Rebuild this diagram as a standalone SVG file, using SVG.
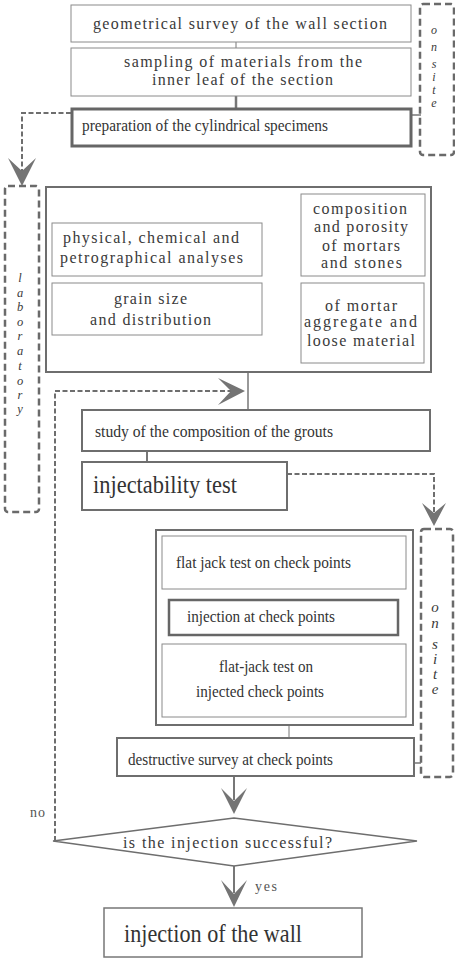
<svg xmlns="http://www.w3.org/2000/svg" width="455" height="958" viewBox="0 0 455 958">
<style>
  .bg{fill:#ffffff}
  .thin{fill:#fff;stroke:#8a8a8a;stroke-width:1}
  .mid{fill:#fff;stroke:#6e6e6e;stroke-width:2}
  .thick{fill:#fff;stroke:#666;stroke-width:3}
  .zone{fill:none;stroke:#6a6a6a;stroke-width:2.5;stroke-dasharray:7,4}
  .line{fill:none;stroke:#777;stroke-width:1.5}
  .dline{fill:none;stroke:#6e6e6e;stroke-width:2;stroke-dasharray:5,2.5}
  .head{fill:#747474;stroke:none}
  .oarrow{fill:none;stroke:#777;stroke-width:1}
  .sp{font-family:"Liberation Serif","Times New Roman",serif;font-size:16px;fill:#3a3a3a}
  .cd{font-family:"Liberation Serif","Times New Roman",serif;font-size:16px;fill:#333}
  .big{font-family:"Liberation Serif","Times New Roman",serif;font-size:25px;fill:#333}
  .vert{font-family:"Liberation Serif","Times New Roman",serif;font-style:italic;font-size:15px;fill:#3a3a3a;text-anchor:middle}
  .vs{font-size:12px}
  .vl{font-size:12.5px}
  .small{font-family:"Liberation Serif","Times New Roman",serif;font-size:14px;fill:#555}
</style>
<rect class="bg" x="0" y="0" width="455" height="958"/>

<g id="connectors">
  <line class="line" x1="236" y1="42" x2="236" y2="48" style="stroke-width:1"/>
  <line class="line" x1="236" y1="96" x2="236" y2="108" style="stroke-width:2.5"/>
  <line class="line" x1="411" y1="115" x2="421" y2="115"/>
  <polyline class="dline" points="71,113 22,113 22,172"/>
  <path class="head" d="M22,186 L8,158 L22,171 L36,158 Z"/>
  <line class="line" x1="147" y1="276" x2="147" y2="283" style="stroke-width:1"/>
  <line class="oarrow" x1="262" y1="249" x2="300" y2="249"/>
  <polyline class="oarrow" points="285,241 300,249 285,257"/>
  <line class="oarrow" x1="262" y1="310" x2="300" y2="310"/>
  <polyline class="oarrow" points="285,302 300,310 285,318"/>
  <line class="line" x1="248" y1="372" x2="248" y2="410"/>
  <polyline class="dline" points="55,841 55,391 232,391"/>
  <path class="head" d="M245,391 L218,378 L231,391 L218,405 Z"/>
  <line class="line" x1="147" y1="451" x2="147" y2="462" style="stroke-width:2"/>
  <polyline class="dline" points="287,474 434,474 434,512"/>
  <path class="head" d="M434,526 L422,503 L434,513 L446,503 Z"/>
  <line class="line" x1="289" y1="530" x2="289" y2="536" style="stroke-width:1"/>
  <line class="line" x1="289" y1="589" x2="289" y2="599" style="stroke-width:1"/>
  <line class="line" x1="289" y1="635" x2="289" y2="644" style="stroke-width:1"/>
  <line class="line" x1="289" y1="717" x2="289" y2="738" style="stroke-width:1"/>
  <line class="line" x1="414" y1="763" x2="421" y2="763"/>
  <line class="line" x1="234" y1="776" x2="234" y2="800" style="stroke-width:2"/>
  <path class="head" d="M234,814 L221,788 L234,801 L247,788 Z"/>
  <line class="line" x1="234" y1="866" x2="234" y2="893" style="stroke-width:2"/>
  <path class="head" d="M234,907 L221,880 L234,894 L247,880 Z"/>
</g>

<g id="zone-onsite-1">
  <rect class="zone" x="420" y="4" width="34" height="151" rx="3"/>
  <text class="vert vs" x="434" y="34">o</text>
  <text class="vert vs" x="434" y="51">n</text>
  <text class="vert vs" x="434" y="68">s</text>
  <text class="vert vs" x="434" y="81">i</text>
  <text class="vert vs" x="434" y="94">t</text>
  <text class="vert vs" x="434" y="107">e</text>
</g>

<g id="zone-laboratory">
  <rect class="zone" x="5" y="186" width="34" height="326" rx="3"/>
  <text class="vert vl" x="20" y="282">l</text>
  <text class="vert vl" x="20" y="297">a</text>
  <text class="vert vl" x="20" y="311">b</text>
  <text class="vert vl" x="20" y="326">o</text>
  <text class="vert vl" x="20" y="340">r</text>
  <text class="vert vl" x="20" y="355">a</text>
  <text class="vert vl" x="20" y="370">t</text>
  <text class="vert vl" x="20" y="385">o</text>
  <text class="vert vl" x="20" y="399">r</text>
  <text class="vert vl" x="20" y="413">y</text>
</g>

<g id="zone-onsite-2">
  <rect class="zone" x="421" y="529" width="32" height="248" rx="3"/>
  <text class="vert" x="435" y="612">o</text>
  <text class="vert" x="435" y="628">n</text>
  <text class="vert" x="435" y="649">s</text>
  <text class="vert" x="435" y="664">i</text>
  <text class="vert" x="435" y="679">t</text>
  <text class="vert" x="435" y="694">e</text>
</g>

<g id="geometrical-survey">
  <rect class="thin" x="71" y="5" width="340" height="37"/>
  <text class="sp" x="93" y="29" textLength="294" lengthAdjust="spacing">geometrical survey of the wall section</text>
</g>

<g id="sampling">
  <rect class="thin" x="71" y="48" width="340" height="48"/>
  <text class="sp" x="124" y="67" textLength="238" lengthAdjust="spacing">sampling of materials from the</text>
  <text class="sp" x="152" y="85" textLength="181" lengthAdjust="spacing">inner leaf of the section</text>
</g>

<g id="preparation">
  <rect class="thick" x="72" y="109" width="339" height="37"/>
  <text class="cd" x="82" y="131" textLength="246" lengthAdjust="spacingAndGlyphs">preparation of the cylindrical specimens</text>
</g>

<g id="laboratory-box">
  <rect class="mid" x="46" y="187" width="385" height="185"/>
</g>

<g id="analyses">
  <rect class="thin" x="52" y="223" width="210" height="53"/>
  <text class="sp" x="63" y="243" textLength="176" lengthAdjust="spacing">physical, chemical and</text>
  <text class="sp" x="60" y="263" textLength="183" lengthAdjust="spacing">petrographical analyses</text>
</g>

<g id="composition-porosity">
  <rect class="thin" x="301" y="194" width="124" height="82"/>
  <text class="sp" x="313" y="214" textLength="94" lengthAdjust="spacing">composition</text>
  <text class="sp" x="314" y="232" textLength="94" lengthAdjust="spacing">and porosity</text>
  <text class="sp" x="322" y="251" textLength="78" lengthAdjust="spacing">of mortars</text>
  <text class="sp" x="321" y="268" textLength="81" lengthAdjust="spacing">and stones</text>
</g>

<g id="grain-size">
  <rect class="thin" x="52" y="283" width="210" height="52"/>
  <text class="sp" x="114" y="304" textLength="73" lengthAdjust="spacing">grain size</text>
  <text class="sp" x="90" y="325" textLength="121" lengthAdjust="spacing">and distribution</text>
</g>

<g id="mortar-aggregate">
  <rect class="thin" x="301" y="283" width="123" height="80"/>
  <text class="sp" x="325" y="311" textLength="72" lengthAdjust="spacing">of mortar</text>
  <text class="sp" x="304" y="327" textLength="113" lengthAdjust="spacing">aggregate  and</text>
  <text class="sp" x="307" y="346" textLength="108" lengthAdjust="spacing">loose material</text>
</g>

<g id="study-grouts">
  <rect class="mid" x="82" y="410" width="348" height="41"/>
  <text class="cd" x="95" y="437" textLength="238" lengthAdjust="spacingAndGlyphs">study of the composition of  the  grouts</text>
</g>

<g id="injectability-test">
  <rect class="mid" x="82" y="462" width="205" height="48"/>
  <text class="big" x="93" y="493" textLength="144" lengthAdjust="spacingAndGlyphs">injectability test</text>
</g>

<g id="check-points-box">
  <rect class="mid" x="156" y="530" width="257" height="195"/>
</g>

<g id="flat-jack-test">
  <rect class="thin" x="162" y="536" width="244" height="53"/>
  <text class="cd" x="176" y="568" textLength="175" lengthAdjust="spacingAndGlyphs">flat jack test on check points</text>
</g>

<g id="injection-check-points">
  <rect class="thick" x="169" y="600" width="229" height="35" style="stroke-width:2.5"/>
  <text class="cd" x="187" y="622" textLength="148" lengthAdjust="spacingAndGlyphs">injection at check points</text>
</g>

<g id="flat-jack-injected">
  <rect class="thin" x="162" y="644" width="244" height="73"/>
  <text class="cd" x="219" y="672" textLength="94" lengthAdjust="spacingAndGlyphs">flat-jack test on</text>
  <text class="cd" x="196" y="697" textLength="128" lengthAdjust="spacingAndGlyphs">injected check points</text>
</g>

<g id="destructive-survey">
  <rect class="mid" x="117" y="738" width="297" height="38"/>
  <text class="cd" x="128" y="765" textLength="205" lengthAdjust="spacingAndGlyphs">destructive survey at check points</text>
</g>

<g id="decision">
  <polygon points="53,841 234,818 417,841 234,866" fill="#fff" stroke="#6e6e6e" stroke-width="1.5"/>
  <text class="sp" x="123" y="848" textLength="209" lengthAdjust="spacing">is the injection successful?</text>
  <text class="small" x="30" y="817" textLength="15" lengthAdjust="spacing">no</text>
  <text class="small" x="255" y="891" textLength="22" lengthAdjust="spacing">yes</text>
</g>

<g id="injection-wall">
  <rect class="thin" x="104" y="908" width="258" height="49" style="stroke-width:1.5;stroke:#777"/>
  <text class="big" x="124" y="942" textLength="178" lengthAdjust="spacingAndGlyphs">injection of the wall</text>
</g>
</svg>
